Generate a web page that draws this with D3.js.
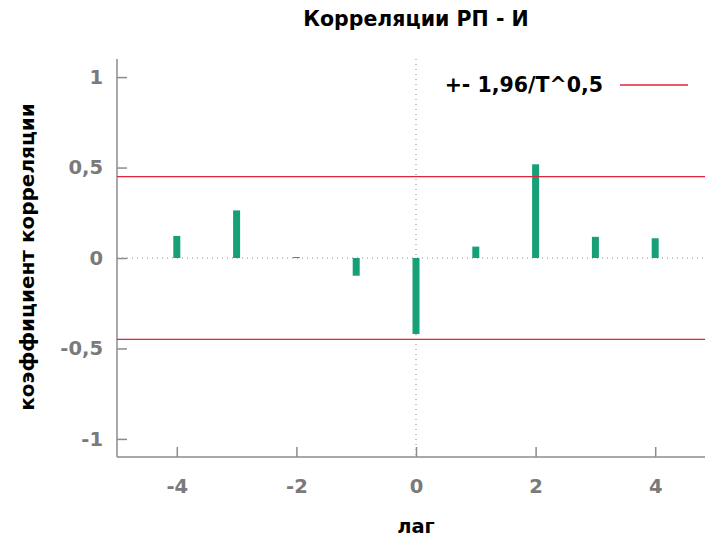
<!DOCTYPE html>
<html>
<head>
<meta charset="utf-8">
<script src="https://cdn.jsdelivr.net/npm/d3@7"></script>
<style>
  html, body { margin: 0; padding: 0; background: #fff; }
  svg { display: block; }
  text { font-family: "DejaVu Sans", sans-serif; font-weight: bold; }
</style>
</head>
<body>
<script>
// Cross-correlation РП vs И by lag
const lags = [-4, -3, -2, -1, 0, 1, 2, 3, 4];
const corr = [0.122, 0.263, 0.005, -0.098, -0.42, 0.063, 0.518, 0.117, 0.109];
const bound = 0.45;              // ±1.96/√T
const xTicks = [-4, -2, 0, 2, 4];
const yTicks = [-1, -0.5, 0, 0.5, 1];

const W = 705, H = 537;
const plotL = 117, plotR = 715, plotT = 59, plotB = 457;

const svg = d3.select("body").append("svg").attr("width", W).attr("height", H);

const x = d3.scaleLinear().domain([-5, 5]).range([plotL, plotR]);
const y = d3.scaleLinear().domain([-1.1, 1.1]).range([plotB, plotT]);

const fmt = d => String(d).replace(".", ",");
const axisGray = "#8c8c8c";

// zero reference lines (dotted)
svg.append("line")
  .attr("x1", plotL).attr("x2", plotR).attr("y1", y(0)).attr("y2", y(0))
  .attr("stroke", "#8a8a8a").attr("stroke-width", 1).attr("stroke-dasharray", "1,4");
svg.append("line")
  .attr("x1", x(0)).attr("x2", x(0)).attr("y1", plotT).attr("y2", plotB)
  .attr("stroke", "#8a8a8a").attr("stroke-width", 1).attr("stroke-dasharray", "1,4");

// axes with inward ticks
const yAxis = d3.axisLeft(y).tickValues(yTicks).tickSize(-10).tickPadding(14).tickFormat(fmt);
const gy = svg.append("g").attr("transform", `translate(${plotL},0)`).call(yAxis);
const xAxis = d3.axisBottom(x).tickValues(xTicks).tickSize(-10).tickPadding(22).tickFormat(fmt);
const gx = svg.append("g").attr("transform", `translate(0,${plotB})`).call(xAxis);

[gx, gy].forEach(g => {
  g.select(".domain").attr("stroke", axisGray).attr("stroke-width", 1.5);
  g.selectAll(".tick line").attr("stroke", axisGray).attr("stroke-width", 1.5);
  g.selectAll(".tick text").attr("fill", "#7a7a7a").attr("font-size", 19.5)
    .attr("font-family", "\"DejaVu Sans\", sans-serif")
    .attr("font-weight", "bold");
});
gx.select(".domain").attr("d", `M${plotL},0H${plotR}`);
gy.select(".domain").attr("d", `M0,${plotB}V${plotT}`);

// bars
svg.append("g").selectAll("rect").data(lags).join("rect")
  .attr("x", (d) => x(d) - 3.5)
  .attr("width", 7)
  .attr("y", (d, i) => y(Math.max(0, corr[i])))
  .attr("height", (d, i) => Math.max(1, Math.abs(y(corr[i]) - y(0))))
  .attr("fill", "#17a077");

// significance bounds
[bound, -bound].forEach(b => {
  svg.append("line")
    .attr("x1", plotL).attr("x2", plotR).attr("y1", y(b)).attr("y2", y(b))
    .attr("stroke", "#e3223c").attr("stroke-width", 1.4);
});

// legend
svg.append("text").attr("x", 603).attr("y", 92).attr("text-anchor", "end")
  .attr("font-size", 20.5).attr("fill", "#000").text("+- 1,96/T^0,5");
svg.append("line").attr("x1", 620).attr("x2", 688).attr("y1", 85).attr("y2", 85)
  .attr("stroke", "#e3223c").attr("stroke-width", 1.4);

// title and axis labels
svg.append("text").attr("x", 416).attr("y", 26).attr("text-anchor", "middle")
  .attr("font-size", 20.5).attr("fill", "#000").text("Корреляции РП - И");
svg.append("text").attr("x", 416).attr("y", 533).attr("text-anchor", "middle")
  .attr("font-size", 19.5).attr("fill", "#000").text("лаг");
svg.append("text").attr("transform", `translate(34,257) rotate(-90)`).attr("text-anchor", "middle")
  .attr("font-size", 20).attr("fill", "#000").text("коэффициент корреляции");
</script>
</body>
</html>
